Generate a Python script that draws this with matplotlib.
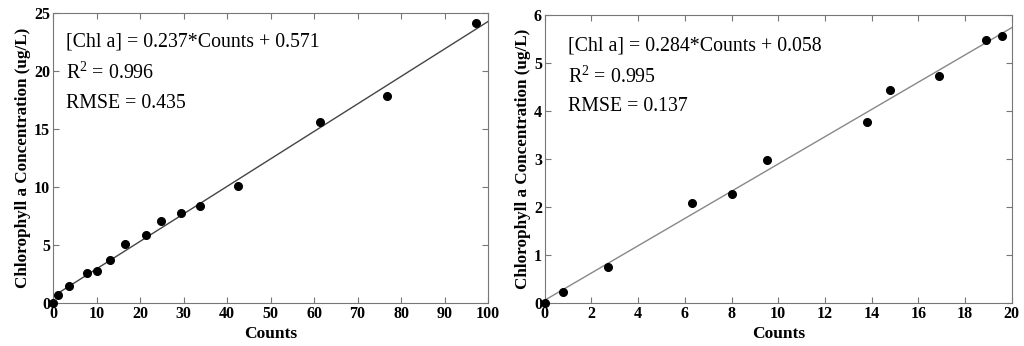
import matplotlib
matplotlib.use("Agg")
from matplotlib import pyplot as plt
import numpy as np

plt.rcParams['font.family'] = ['Liberation Serif', 'DejaVu Serif']
plt.rcParams['mathtext.fontset'] = 'custom'
plt.rcParams['mathtext.rm'] = 'Liberation Serif'

# left panel data
left_counts = [0, 1.2, 3.7, 7.8, 10.1, 13.1, 16.6, 21.4, 24.8, 29.4, 33.8, 42.5, 61.3, 76.7, 97.3]
left_chl = [0, 0.7, 1.5, 2.6, 2.8, 3.75, 5.1, 5.85, 7.05, 7.8, 8.35, 10.05, 15.6, 17.85, 24.1]
left_fit = (0.237, 0.571)
left_stats = ["[Chl a] = 0.237*Counts + 0.571", "R$^2$ = 0.996", "RMSE = 0.435"]

# right panel data
right_counts = [0, 0.8, 2.7, 6.3, 8.0, 9.5, 13.8, 14.8, 16.9, 18.9, 19.6]
right_chl = [0, 0.22, 0.75, 2.08, 2.27, 2.97, 3.78, 4.44, 4.74, 5.48, 5.56]
right_fit = (0.284, 0.058)
right_stats = ["[Chl a] = 0.284*Counts + 0.058", "R$^2$ = 0.995", "RMSE = 0.137"]


def draw_panel(ax, counts, chl, fit, stats, xmax, ymax, xstep, ystep, line_color, text_pos):
    xs = np.array([0, xmax])
    ax.plot(xs, fit[0] * xs + fit[1], color=line_color, linewidth=1)
    ax.plot(counts, chl, 'o', color='black', markersize=5.5, clip_on=False, zorder=3)
    ax.set_xlim(0, xmax)
    ax.set_ylim(0, ymax)
    ax.set_xticks(np.arange(0, xmax + xstep / 2, xstep))
    ax.set_yticks(np.arange(0, ymax + ystep / 2, ystep))
    ax.tick_params(direction='in', top=True, right=True, labelsize=11.5, pad=2,
                   length=4, color='#777777')
    for lab in ax.get_xticklabels() + ax.get_yticklabels():
        lab.set_fontweight('bold')
    for sp in ax.spines.values():
        sp.set_color('#777777')
    ax.set_xlabel("Counts", fontsize=12.5, fontweight='bold', labelpad=3)
    ax.set_ylabel("Chlorophyll a Concentration (ug/L)", fontsize=12.3,
                  fontweight='bold', labelpad=2)
    tx, ty, dy = text_pos
    for i, s in enumerate(stats):
        ax.text(tx, ty - i * dy, s, fontsize=14.3, va='center', ha='left')


fig = plt.figure(figsize=(10.24, 3.46), dpi=100)
ax1 = fig.add_axes([0.0518, 0.1243, 0.4248, 0.838])
ax2 = fig.add_axes([0.532, 0.1243, 0.456, 0.832])

draw_panel(ax1, left_counts, left_chl, left_fit, left_stats, 100, 25, 10, 5,
           '#444444', (3.0, 22.5, 2.67))
draw_panel(ax2, right_counts, right_chl, right_fit, right_stats, 20, 6, 2, 1,
           '#888888', (0.98, 5.35, 0.63))

fig.savefig("out.png", dpi=100)
